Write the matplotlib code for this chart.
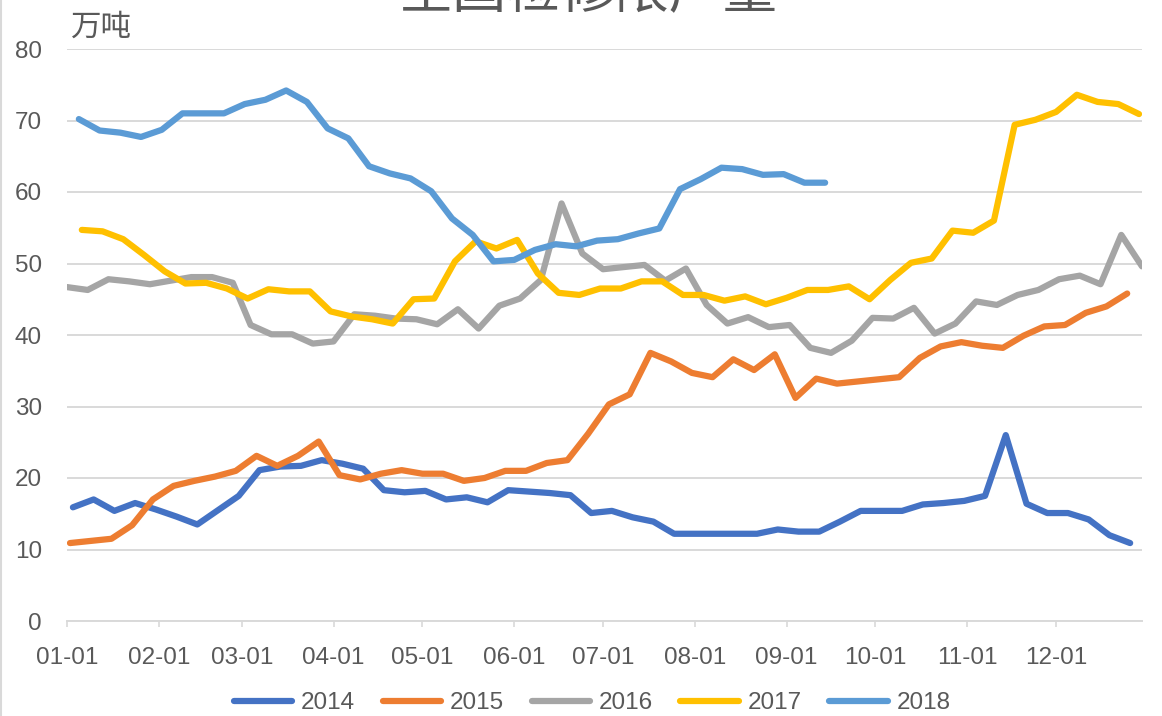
import matplotlib
matplotlib.use("Agg")
import matplotlib.pyplot as plt
import pandas as pd
from matplotlib.lines import Line2D

# 全国检修限产量 (万吨), weekly (Friday) series by year

YEARS = ["2014", "2015", "2016", "2017", "2018"]
FIRST_WEEK = ["2014-01-03", "2015-01-02", "2016-01-01", "2017-01-06", "2018-01-05"]
COLORS = ["#4472C4", "#ED7D31", "#A5A5A5", "#FFC000", "#5B9BD5"]

V2014 = [15.9, 17.0, 15.4, 16.5, 15.6, 14.6, 13.5, 15.5, 17.5, 21.1, 21.6, 21.7, 22.5,
         22.0, 21.3, 18.3, 18.0, 18.2, 17.0, 17.3, 16.6, 18.3, 18.1, 17.9, 17.6, 15.1,
         15.4, 14.5, 13.9, 12.2, 12.2, 12.2, 12.2, 12.2, 12.8, 12.5, 12.5, 13.9, 15.4,
         15.4, 15.4, 16.3, 16.5, 16.8, 17.5, 26.0, 16.4, 15.1, 15.1, 14.2, 12.0, 10.9]
V2015 = [10.9, 11.2, 11.5, 13.4, 17.0, 18.9, 19.6, 20.2, 21.0, 23.1, 21.7, 23.1, 25.1,
         20.4, 19.8, 20.6, 21.1, 20.6, 20.6, 19.6, 20.0, 21.0, 21.0, 22.1, 22.5, 26.2,
         30.3, 31.7, 37.5, 36.3, 34.7, 34.1, 36.6, 35.1, 37.3, 31.2, 33.9, 33.2, 33.5,
         33.8, 34.1, 36.8, 38.4, 39.0, 38.5, 38.2, 39.9, 41.2, 41.4, 43.1, 44.0, 45.8]
V2016 = [46.7, 46.3, 47.8, 47.5, 47.1, 47.6, 48.1, 48.1, 47.3, 41.4, 40.1, 40.1, 38.8,
         39.1, 42.9, 42.7, 42.3, 42.2, 41.5, 43.6, 40.9, 44.1, 45.1, 47.7, 58.4, 51.4,
         49.2, 49.5, 49.8, 47.6, 49.3, 44.2, 41.6, 42.5, 41.1, 41.4, 38.2, 37.5, 39.2,
         42.4, 42.3, 43.8, 40.2, 41.6, 44.7, 44.2, 45.6, 46.3, 47.8, 48.3, 47.1, 54.0,
         49.6]
V2017 = [54.7, 54.5, 53.4, 51.2, 48.9, 47.2, 47.3, 46.5, 45.1, 46.4, 46.1, 46.1, 43.3,
         42.6, 42.2, 41.6, 45.0, 45.1, 50.3, 53.1, 52.1, 53.3, 48.6, 45.9, 45.6, 46.5,
         46.5, 47.5, 47.5, 45.6, 45.6, 44.8, 45.4, 44.3, 45.2, 46.3, 46.3, 46.8, 45.0,
         47.7, 50.1, 50.7, 54.6, 54.3, 56.0, 69.4, 70.1, 71.2, 73.6, 72.6, 72.3, 70.9]
V2018 = [70.2, 68.6, 68.3, 67.7, 68.7, 71.0, 71.0, 71.0, 72.3, 72.9, 74.2, 72.6, 68.9,
         67.5, 63.6, 62.6, 61.9, 60.1, 56.3, 54.0, 50.3, 50.5, 51.9, 52.7, 52.4, 53.2,
         53.4, 54.2, 54.9, 60.4, 61.8, 63.4, 63.2, 62.4, 62.5, 61.3, 61.3]

SERIES = [V2014, V2015, V2016, V2017, V2018]

MONTH_LABELS = ["01-01", "02-01", "03-01", "04-01", "05-01", "06-01",
                "07-01", "08-01", "09-01", "10-01", "11-01", "12-01"]

TEXT = "#595959"
GRID = "#D9D9D9"


def same_year(start, n, year=2017):
    # put every year on one calendar so the weeks line up by month-day
    days = pd.date_range(start, periods=n, freq="7D")
    return [d.replace(year=year).to_pydatetime() for d in days]


plt.rcParams["font.family"] = ["Liberation Sans", "Noto Sans CJK SC", "DejaVu Sans"]

fig = plt.figure(figsize=(11.62, 7.16), dpi=100)
ax = fig.add_axes([67 / 1162, 1 - 621 / 716, 1075 / 1162, 572 / 716])

for year, start, vals, col in zip(YEARS, FIRST_WEEK, SERIES, COLORS):
    ax.plot(same_year(start, len(vals)), vals, color=col, lw=4.5, label=year,
            solid_capstyle="round", solid_joinstyle="round")

ax.set_ylim(0, 80)
ax.set_yticks(range(0, 81, 10))
ax.set_xlim(pd.Timestamp("2017-01-01"), pd.Timestamp("2017-12-30"))
month_starts = pd.date_range("2017-01-01", periods=12, freq="MS")
ax.set_xticks(list(month_starts))
ax.set_xticklabels(MONTH_LABELS)

ax.grid(axis="y", color=GRID, lw=1.4)
ax.set_axisbelow(True)
for s in ("top", "right", "left"):
    ax.spines[s].set_visible(False)
ax.spines["bottom"].set_color(GRID)
ax.spines["bottom"].set_linewidth(1.4)

ax.tick_params(axis="y", length=0, pad=18, labelsize=17.5, labelcolor=TEXT)
ax.tick_params(axis="x", direction="out", length=4.5, width=1.2, color=GRID,
               pad=14, labelsize=17.5, labelcolor=TEXT)

# unit label and the (clipped) title at the top edge
fig.text(71 / 1162, 1 - 27 / 716, "万吨", ha="left", va="center", fontsize=22,
         color=TEXT, family="Noto Sans CJK SC")
fig.text(588 / 1162, 1 - 8 / 716, "全国检修限产量", ha="center", va="baseline",
         fontsize=39, color=TEXT, family="Noto Sans CJK SC")

fig.legend(loc="center", bbox_to_anchor=(592 / 1162, 1 - 703 / 716), ncol=5,
           frameon=False, fontsize=17.5, labelcolor=TEXT, handlelength=2.4,
           handletextpad=0.35, columnspacing=1.15)

# chart frame edge on the left
fig.add_artist(Line2D([0.001, 0.001], [0, 1], color=GRID, lw=1.5))

fig.savefig("out.png", dpi=100)
